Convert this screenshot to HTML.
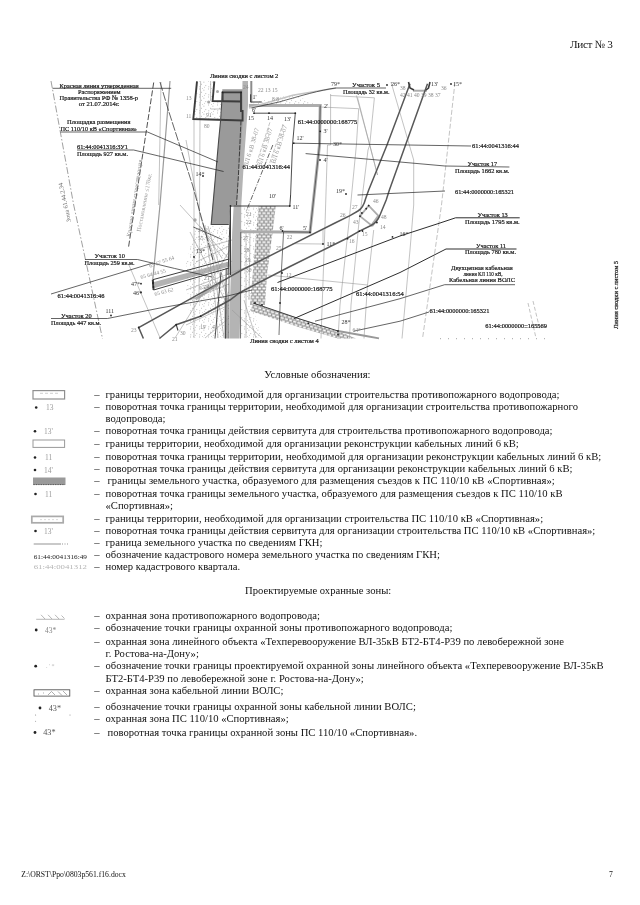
<!DOCTYPE html>
<html lang="ru"><head><meta charset="utf-8"><title>Лист № 3</title>
<style>
html,body{margin:0;padding:0;background:#fff;}
body{width:640px;height:905px;position:relative;overflow:hidden;font-family:"Liberation Serif",serif;color:#111;}
#tx{position:absolute;left:0;top:0;width:640px;height:905px;will-change:transform;}
.t{position:absolute;white-space:pre;font-size:10.63px;line-height:1;}
.s{position:absolute;white-space:pre;line-height:1;}
svg{position:absolute;left:0;top:0;}
</style></head><body>
<div id="tx">

<div class="t" style="left:94.30px;top:390.10px;">–</div>
<div class="t" id="l0" style="left:105.50px;top:390.10px;word-spacing:0.054px;">границы территории, необходимой для организации строительства противопожарного водопровода;</div>
<div class="t" style="left:94.30px;top:402.10px;">–</div>
<div class="t" id="l1" style="left:105.50px;top:402.10px;word-spacing:-0.006px;">поворотная точка границы территории, необходимой для организации строительства противопожарного</div>
<div class="t" id="l2" style="left:105.50px;top:414.10px;">водопровода;</div>
<div class="t" style="left:94.30px;top:426.10px;">–</div>
<div class="t" id="l3" style="left:105.50px;top:426.10px;word-spacing:0.016px;">поворотная точка границы действия сервитута для строительства противопожарного водопровода;</div>
<div class="t" style="left:94.30px;top:439.10px;">–</div>
<div class="t" id="l4" style="left:105.50px;top:439.10px;word-spacing:-0.061px;">границы территории, необходимой для организации реконструкции кабельных линий 6 кВ;</div>
<div class="t" style="left:94.30px;top:452.10px;">–</div>
<div class="t" id="l5" style="left:105.50px;top:452.10px;word-spacing:0.034px;">поворотная точка границы территории, необходимой для организации реконструкции кабельных линий 6 кВ;</div>
<div class="t" style="left:94.30px;top:464.10px;">–</div>
<div class="t" id="l6" style="left:105.50px;top:464.10px;word-spacing:0.023px;">поворотная точка границы действия сервитута для организации реконструкции кабельных линий 6 кВ;</div>
<div class="t" style="left:94.30px;top:476.10px;">–</div>
<div class="t" id="l7" style="left:107.50px;top:476.10px;word-spacing:0.138px;">границы земельного участка, образуемого для размещения съездов к ПС 110/10 кВ «Спортивная»;</div>
<div class="t" style="left:94.30px;top:489.10px;">–</div>
<div class="t" id="l8" style="left:105.50px;top:489.10px;word-spacing:-0.013px;">поворотная точка границы земельного участка, образуемого для размещения съездов к ПС 110/10 кВ</div>
<div class="t" id="l9" style="left:105.50px;top:501.10px;">«Спортивная»;</div>
<div class="t" style="left:94.30px;top:514.10px;">–</div>
<div class="t" id="l10" style="left:105.50px;top:514.10px;word-spacing:0.037px;">границы территории, необходимой для организации строительства ПС 110/10 кВ «Спортивная»;</div>
<div class="t" style="left:94.30px;top:526.10px;">–</div>
<div class="t" id="l11" style="left:105.50px;top:526.10px;word-spacing:-0.038px;">поворотная точка границы действия сервитута для организации строительства ПС 110/10 кВ «Спортивная»;</div>
<div class="t" style="left:94.30px;top:538.10px;">–</div>
<div class="t" id="l12" style="left:105.50px;top:538.10px;">граница земельного участка по сведениям ГКН;</div>
<div class="t" style="left:94.30px;top:550.10px;">–</div>
<div class="t" id="l13" style="left:105.50px;top:550.10px;">обозначение кадастрового номера земельного участка по сведениям ГКН;</div>
<div class="t" style="left:94.30px;top:562.10px;">–</div>
<div class="t" id="l14" style="left:105.50px;top:562.10px;">номер кадастрового квартала.</div>
<div class="t" style="left:94.30px;top:611.10px;">–</div>
<div class="t" id="l15" style="left:105.50px;top:611.10px;">охранная зона противопожарного водопровода;</div>
<div class="t" style="left:94.30px;top:623.10px;">–</div>
<div class="t" id="l16" style="left:105.50px;top:623.10px;">обозначение точки границы охранной зоны противопожарного водопровода;</div>
<div class="t" style="left:94.30px;top:637.10px;">–</div>
<div class="t" id="l17" style="left:105.50px;top:637.10px;word-spacing:0.054px;">охранная зона линейного объекта «Техперевооружение ВЛ-35кВ БТ2-БТ4-Р39 по левобережной зоне</div>
<div class="t" id="l18" style="left:105.50px;top:649.10px;">г. Ростова-на-Дону»;</div>
<div class="t" style="left:94.30px;top:661.10px;">–</div>
<div class="t" id="l19" style="left:105.50px;top:661.10px;word-spacing:0.056px;">обозначение точки границы проектируемой охранной зоны линейного объекта «Техперевооружение ВЛ-35кВ</div>
<div class="t" id="l20" style="left:105.50px;top:674.10px;">БТ2-БТ4-Р39 по левобережной зоне г. Ростова-на-Дону»;</div>
<div class="t" style="left:94.30px;top:686.10px;">–</div>
<div class="t" id="l21" style="left:105.50px;top:686.10px;">охранная зона кабельной линии ВОЛС;</div>
<div class="t" style="left:94.30px;top:702.10px;">–</div>
<div class="t" id="l22" style="left:105.50px;top:702.10px;">обозначение точки границы охранной зоны кабельной линии ВОЛС;</div>
<div class="t" style="left:94.30px;top:714.10px;">–</div>
<div class="t" id="l23" style="left:105.50px;top:714.10px;">охранная зона ПС 110/10 «Спортивная»;</div>
<div class="t" style="left:94.30px;top:728.10px;">–</div>
<div class="t" id="l24" style="left:107.50px;top:728.10px;">поворотная точка границы охранной зоны ПС 110/10 «Спортивная».</div>
<div class="t" style="left:264.30px;top:370.00px;">Условные обозначения:</div>
<div class="t" style="left:245.00px;top:586.20px;">Проектируемые охранные зоны:</div>
<div class="t" style="left:570.00px;top:39.22px;font-size:11.2px;letter-spacing:-0.34px;">Лист № 3</div>
<div class="t" style="left:21.20px;top:870.55px;font-size:7.7px;">Z:\ORST\Ppo\0803p561.f16.docx</div>
<div class="t" style="left:609.00px;top:870.55px;font-size:7.7px;">7</div>
</div>
<svg width="640" height="905" viewBox="0 0 640 905" font-family="Liberation Serif, serif">
<g fill="none">
<rect x="33" y="390.6" width="31.6" height="8.4" stroke="#8f8f8f" stroke-width="1.2"/>
<path d="M40 393.3H60" stroke="#bbb" stroke-width=".7" stroke-dasharray="3 2"/>
<rect x="33" y="440" width="31.6" height="7.4" stroke="#999" stroke-width="1"/>
<rect x="33" y="477.5" width="32.5" height="7.5" fill="#9a9a9a"/>
<path d="M33.5 484.6H65" stroke="#444" stroke-width=".8" stroke-dasharray="1.2 1.2"/>
<rect x="31.8" y="516.4" width="31.4" height="6.4" stroke="#aaa" stroke-width="1.7"/>
<path d="M40 519.6H58" stroke="#ccc" stroke-width=".7" stroke-dasharray="2 2"/>
<path d="M33.7 544H61" stroke="#666" stroke-width=".7"/><path d="M62 544H69" stroke="#666" stroke-width=".7" stroke-dasharray="1 1.5"/>
<path d="M36.2 619.3H64.5" stroke="#999" stroke-width=".7"/>
<path d="M41 614.8L45 619M48 614.8L52 619M55 614.8L59 619M61.5 615.5L64.5 618.5" stroke="#999" stroke-width=".7"/>
<rect x="34" y="689.8" width="35.8" height="6.3" stroke="#444" stroke-width=".8"/>
<path d="M38 694h1M43 693h1M48 695L51.5 691.5L55 695M58 691.5L62 695.5M63 691L67 695" stroke="#777" stroke-width=".6"/>
</g>
<g fill="#222">
<circle cx="36.2" cy="407.5" r="1.3"/><circle cx="35" cy="431.3" r="1.3"/><circle cx="35" cy="457.5" r="1.3"/><circle cx="35" cy="470" r="1.3"/>
<circle cx="35.5" cy="494" r="1.3"/><circle cx="35.5" cy="531" r="1.3"/><circle cx="36.2" cy="630" r="1.4"/><circle cx="35.7" cy="666.2" r="1.4"/>
<circle cx="40" cy="708" r="1.4"/><circle cx="35" cy="732.5" r="1.4"/>
<circle cx="35.7" cy="715" r=".4"/><circle cx="70" cy="715" r=".4"/><circle cx="35.7" cy="721.2" r=".4"/>
</g>
<g font-size="7.5" fill="#9a9a9a">
<text x="46" y="410">13</text><text x="44" y="434">13'</text><text x="45" y="460">11</text><text x="44" y="472.5">14'</text><text x="45" y="496.5">11</text><text x="44" y="533.5">13'</text>
<text x="45" y="632.5" fill="#888">43*</text>
<text x="46" y="668" fill="#bbb" font-size="6">. ' *</text>
<text x="48.7" y="710.5" fill="#555" font-size="8.2">43*</text><text x="43.2" y="734.7" fill="#555" font-size="8.2">43*</text>
</g>
<text x="33.7" y="559" font-size="6.3" fill="#222" textLength="53.3" lengthAdjust="spacingAndGlyphs">61:44:0041316:49</text>
<text x="33.7" y="569" font-size="6.8" fill="#b5b5b5" textLength="53.3" lengthAdjust="spacingAndGlyphs">61:44:0041312</text>
</svg>

<svg width="640" height="905" viewBox="0 0 640 905" font-family="Liberation Serif, serif">
<defs>
<pattern id="brick" width="4.4" height="5.8" patternUnits="userSpaceOnUse">
<rect width="4.4" height="5.8" fill="#8c8c8c"/>
<path d="M.6 1.45H3.8M-1.6 4.35H1.6M2.8 4.35H6" stroke="#fbfbfb" stroke-width="2.1" fill="none"/>
</pattern>
<pattern id="brick2" width="4.4" height="5.8" patternUnits="userSpaceOnUse" patternTransform="rotate(16.5)">
<rect width="4.4" height="5.8" fill="#8c8c8c"/>
<path d="M.6 1.45H3.8M-1.6 4.35H1.6M2.8 4.35H6" stroke="#fbfbfb" stroke-width="2.1" fill="none"/>
</pattern>
<pattern id="st" width="9" height="8" patternUnits="userSpaceOnUse">
<path d="M1 1h.8M5.5 2.2h.8M3 4.3h.8M7.4 5.6h.8M1.4 6.8h.8M6 7.4h.6M4 .4h.6" stroke="#8c8c8c" stroke-width=".7"/>
</pattern>
</defs>
<g id="fills">
<path d="M242.5 81L248 81L248 105L244 160L241.3 205L240.6 300L239.5 338.5L229.5 338.5L230 300L232.2 232L233.7 205L241 140Z" fill="#b4b4b4"/>
<path d="M222.3 89.3L242.6 89.3L242.8 120.5L241 145L238.4 176L236.5 205.3L230.6 205.3L228.8 224.5L211 224.5L218.7 140L220.6 120.5L222.3 101Z" fill="#9a9a9a"/>
<path d="M154 282L229 261.5L229.6 266.5L154.6 288Z" fill="#b3b3b3"/>
<path d="M258.6 206L275.8 206L272.6 232.5L267 275L265 305L250 305L254.3 255Z" fill="url(#brick)"/>
<path d="M253 303L300 319L338 331L356 338.5L338 338.5L300 327.5L250.5 311Z" fill="url(#brick2)"/>
<path d="M224.4 297.5H228V338.5H224.4Z" fill="#a8a8a8"/>
<path d="M196 300.5L221.5 283.5L220.5 281L195 298Z" fill="#b0b0b0"/>
<circle cx="208.7" cy="102" r="1.6" fill="#aaa"/><circle cx="217.5" cy="91.6" r="1.5" fill="#aaa"/><circle cx="195" cy="220" r="1.7" fill="#aaa"/>
<!-- stipple regions -->
<path d="M197 81L214.3 81L212.6 101L222.3 101L220.6 120L193.3 119Z" fill="url(#st)"/>
<path d="M250.6 103L293 94.5L318 104.5L250 104.5Z" fill="url(#st)"/>
<path d="M241 207H258.4L254.3 255L251 300H241Z" fill="url(#st)"/>
<path d="M196 226H229L229 338H190L186 262Z" fill="url(#st)"/>
<path d="M241 306H252L262 338H240Z" fill="url(#st)"/>
</g>
<g fill="none" stroke="#9a9a9a" stroke-width=".6">
<path d="M51 81L73.7 205L102.5 338.7" stroke-dasharray="7 2 1.5 2" stroke="#888" stroke-width=".8"/>
<path d="M161 82L158.7 205M128.4 263.7L160.3 338.5M330.6 94L330.6 145L327.5 145L325 225L321 338.5M330.6 95.5L374.4 97.8L369.7 145L368 150L361 207L358.7 225L351 305L349.5 338.5M356.4 95.5L369.7 145L377.5 175M320 107L358.7 108.7L356.4 145L348.7 225L340 305L338 338.5M391 82L413.7 160L413.7 205L410 250L402 338.5M357.5 97.5L377.5 175M373.7 230L367.5 285L364 338.5M267.5 275L367.5 285M292.5 243.7L323 244M323 230L323 244M194 120L194 338M200 120L199 300M246 232L246 338M250 232L249 300M205 225L215 300L218 338M190 232L225 300M175 338L230 250M200.6 81L200 119M210.6 81L210.6 100M210.6 109H221.5M240.6 232L240.6 338M186 140L200 215L228 300M180 205L232 262M186 290L260 262M196 250L232 240M232 310L262 338M244 300L256 338M200 226L222 258M208 226L229 300M196 262L229 246M190 300L229 284M205 338L229 318M212 255L224 338M186 325L229 305"/>
<path d="M170 81L160 205L153.7 270L152.8 279" stroke-width="1.2"/>
<path d="M455 82L441.5 205L422.5 338.7" stroke-dasharray="5 2"/>
<path d="M528 303L536 338M533 301L540 330" stroke-dasharray="4 2"/>
<path d="M440 338.7H546" stroke-dasharray="1 7" stroke="#666"/>
<path d="M255 168L270 122M268 168L283 124" stroke-dasharray="4 1.5"/>
</g>
<g id="thick" fill="none" stroke="#adadad" stroke-width="3">
<path d="M248.9 105.5H320.2L319.5 145L310 232.2L240 231.7"/>
<path d="M249 108L292.7 95.2L336 88" stroke-width="1.6" stroke="#c4c4c4"/>
<path d="M368.7 205.6L378.7 216.2L371.9 225.6L360 216.2Z" stroke-width="1.8"/><path d="M378.7 216.2L371.9 225.6" stroke-width="3"/>
<path d="M413 90.7H427" stroke-width="2"/>
<path d="M251.3 81V102.5" stroke-width="2" stroke="#8c8c8c"/>
</g>
<g id="dark" fill="none" stroke="#3c3c3c" stroke-width="1.9">
<path d="M197 81.4L193.3 119L242.6 120.5L242.6 111L241 111L241 92.4L222.6 92.4L222.6 101"/>
<path d="M214.3 81.4L212.6 101L241 101.5"/>
<path d="M222.4 92.4L220.6 120.5L218.7 140L211.2 224.5L228.8 224.5" stroke-width="1.1" stroke="#4a4a4a"/>
<path d="M241 120.5L238.4 176L236.5 205" stroke-dasharray="5 1.2" stroke-width="1"/>
<path d="M290.6 195L289.8 206L230.5 206L228 275M230.5 206L230.5 275" stroke-width="1"/>
<path d="M229 259L152.8 279.7L153.6 290L229 268" stroke-width="1"/>
<path d="M152.8 279.7L153.6 290" stroke-width="2"/>
<path d="M143.4 338.5L138.7 327.5L225 279.7L240 271L290 245.6L335 223L350 215.6L358 211C363 208 364.5 203 365.6 198.7L368.7 190L387 145L410 83.7" stroke-width="1.5" stroke="#585858"/>
<path d="M159.4 338.5L176.2 324.7L200.6 316.2L230 300L240 292.5L290 266.5L347.5 238L359.4 231.2L371 225.5C377 222.5 378.5 219 380 215L386.2 200L389.4 190L427.5 83.7" stroke-width="1.5" stroke="#585858"/>
<path d="M176.2 324.7L178 330.5" stroke-width="1.1"/>
<path d="M221 272.5L215 338.5M226.2 268L225.5 338.5" stroke-width=".9"/><path d="M229.2 240L228.7 338.5M240.8 232L240.4 338.5" stroke-width=".8" stroke="#555"/>
<path d="M254 113.2L295.3 113.2L292.5 145L290.6 195" stroke-width=".9"/>
<path d="M250.6 94.3V102H261.8" stroke-width="1"/>
<path d="M320.2 105.5L319.5 145L310 232.2L283.6 231.7L281.2 275L279 335" stroke-width=".7"/>
<path d="M408.5 82L410 88L414 90M430 82L428.5 88L426 90" stroke-width="1.6"/>
<path d="M153.7 82.5L128.4 248" stroke-dasharray="6 2" stroke-width=".9"/>
<path d="M272.8 145L246 212" stroke-dasharray="5 1.5 1 1.5" stroke-width=".8"/>
<path d="M253 303L300 319L338 331" stroke-width="1"/><path d="M338 331L366 336L379 338.3" stroke-width="1.8" stroke="#999"/>
</g>
<g id="lead" fill="none" stroke="#222" stroke-width=".7">
<path d="M52.5 88.3H171.2"/>
<path d="M60.5 132H147.5L218 162"/>
<path d="M77 150H133.7L223.6 171.5"/>
<path d="M386 88H336C320 90 300 96 279 102L251.5 108"/>
<path d="M471 146L294 143.2"/>
<path d="M509.4 167L445 166L305.6 153.6"/>
<path d="M445 191L357.5 195"/>
<path d="M519.7 217.8H455.6L440 223L400 236L277.5 282.5" stroke-width=".95"/>
<path d="M516.5 249H446L400 272.5L293.7 318.7" stroke-width=".95"/>
<path d="M515 284.7H444.7L400 298.7L315 321.2"/>
<path d="M429 312L400 321.2L353.7 331.2"/>
<path d="M85 259.5H137.5L174.4 268.4L212 277"/>
<path d="M51 294L153 263"/>
<path d="M51 318.5H107.5L160 308L225 296.6L252 290"/>
<path d="M160 82L168.3 110L192.5 185L213 260" stroke-dasharray="9 1.5"/><path d="M193.3 227L222 239.4"/>
</g>
<g fill="#222"><circle cx="141.0" cy="283.7" r=".9"/><circle cx="141.0" cy="292.5" r=".9"/><circle cx="320.2" cy="131.3" r=".9"/><circle cx="323.0" cy="244.0" r=".9"/><circle cx="346.0" cy="194.0" r=".9"/><circle cx="387.0" cy="85.0" r=".9"/><circle cx="451.0" cy="84.0" r=".9"/><circle cx="111.0" cy="315.5" r=".9"/><circle cx="282.5" cy="231.0" r=".9"/><circle cx="282.0" cy="273.0" r=".9"/><circle cx="280.0" cy="303.0" r=".9"/><circle cx="310.0" cy="232.3" r=".9"/><circle cx="230.5" cy="206.0" r=".9"/><circle cx="289.8" cy="206.0" r=".9"/><circle cx="295.3" cy="113.2" r=".9"/><circle cx="254.0" cy="113.2" r=".9"/><circle cx="269.0" cy="113.2" r=".9"/><circle cx="241.0" cy="92.4" r=".9"/><circle cx="222.6" cy="92.4" r=".9"/><circle cx="153.0" cy="283.0" r=".9"/><circle cx="153.4" cy="287.0" r=".9"/><circle cx="176.2" cy="324.7" r=".9"/><circle cx="138.7" cy="327.5" r=".9"/><circle cx="200.6" cy="316.2" r=".9"/><circle cx="347.5" cy="238.7" r=".9"/><circle cx="362.5" cy="231.0" r=".9"/><circle cx="293.7" cy="143.2" r=".9"/><circle cx="320.0" cy="160.0" r=".9"/><circle cx="255.0" cy="303.0" r=".9"/><circle cx="262.0" cy="305.0" r=".9"/><circle cx="338.0" cy="331.0" r=".9"/><circle cx="338.0" cy="334.5" r=".9"/><circle cx="308.4" cy="323.3" r=".9"/><circle cx="368.7" cy="205.6" r=".9"/><circle cx="366.2" cy="208.7" r=".9"/><circle cx="361.9" cy="213.0" r=".9"/><circle cx="360.0" cy="216.2" r=".9"/><circle cx="376.9" cy="222.5" r=".9"/><circle cx="359.4" cy="231.2" r=".9"/><circle cx="392.5" cy="236.9" r=".9"/><circle cx="203.0" cy="176.0" r=".9"/><circle cx="194.0" cy="257.0" r=".9"/></g>
<g id="labels" stroke="#1a1a1a" stroke-width=".22">
<text x="210.0" y="77.8" font-size="6.8" fill="#1a1a1a" textLength="68.3" lengthAdjust="spacingAndGlyphs">Линия сводки с листом 2</text>
<text x="59.5" y="87.5" font-size="6.8" fill="#1a1a1a" textLength="79.2" lengthAdjust="spacingAndGlyphs">Красная линия утвержденная</text>
<text x="78.0" y="93.8" font-size="6.8" fill="#1a1a1a" textLength="42.5" lengthAdjust="spacingAndGlyphs">Распоряжением</text>
<text x="59.5" y="100.0" font-size="6.8" fill="#1a1a1a" textLength="78.5" lengthAdjust="spacingAndGlyphs">Правительства РФ № 1358-р</text>
<text x="78.7" y="106.3" font-size="6.8" fill="#1a1a1a" textLength="40.8" lengthAdjust="spacingAndGlyphs">от 21.07.2014г.</text>
<text x="67.0" y="123.8" font-size="6.8" fill="#1a1a1a" textLength="63.5" lengthAdjust="spacingAndGlyphs">Площадка  размещения</text>
<text x="60.5" y="130.5" font-size="6.8" fill="#1a1a1a" textLength="76.5" lengthAdjust="spacingAndGlyphs">ПС 110/10 кВ «Спортивная»</text>
<text x="77.0" y="148.8" font-size="6.8" fill="#1a1a1a" textLength="51.0" lengthAdjust="spacingAndGlyphs">61:44:0041316:ЗУ1</text>
<text x="77.0" y="156.3" font-size="6.8" fill="#1a1a1a" textLength="51.0" lengthAdjust="spacingAndGlyphs">Площадь 927 кв.м.</text>
<text x="352.0" y="86.5" font-size="6.8" fill="#1a1a1a" textLength="28.0" lengthAdjust="spacingAndGlyphs">Участок 5</text>
<text x="343.0" y="94.0" font-size="6.8" fill="#1a1a1a" textLength="46.5" lengthAdjust="spacingAndGlyphs">Площадь 32 кв.м.</text>
<text x="297.8" y="124.4" font-size="6.8" fill="#1a1a1a" textLength="59.4" lengthAdjust="spacingAndGlyphs">61:44:0000000:168775</text>
<text x="242.5" y="168.8" font-size="6.8" fill="#1a1a1a" textLength="47.5" lengthAdjust="spacingAndGlyphs">61:44:0041316:44</text>
<text x="472.0" y="147.8" font-size="6.8" fill="#1a1a1a" textLength="47.0" lengthAdjust="spacingAndGlyphs">61:44:0041316:44</text>
<text x="467.5" y="165.6" font-size="6.8" fill="#1a1a1a" textLength="29.5" lengthAdjust="spacingAndGlyphs">Участок 17</text>
<text x="455.0" y="173.4" font-size="6.8" fill="#1a1a1a" textLength="54.4" lengthAdjust="spacingAndGlyphs">Площадь 1662 кв.м.</text>
<text x="455.0" y="193.8" font-size="6.8" fill="#1a1a1a" textLength="59.0" lengthAdjust="spacingAndGlyphs">61:44:0000000:165321</text>
<text x="477.5" y="216.9" font-size="6.8" fill="#1a1a1a" textLength="30.3" lengthAdjust="spacingAndGlyphs">Участок 13</text>
<text x="465.0" y="224.0" font-size="6.8" fill="#1a1a1a" textLength="54.7" lengthAdjust="spacingAndGlyphs">Площадь 1795 кв.м.</text>
<text x="476.0" y="247.5" font-size="6.8" fill="#1a1a1a" textLength="30.0" lengthAdjust="spacingAndGlyphs">Участок 11</text>
<text x="465.0" y="254.4" font-size="6.8" fill="#1a1a1a" textLength="51.0" lengthAdjust="spacingAndGlyphs">Площадь 780 кв.м.</text>
<text x="451.0" y="270.3" font-size="6.8" fill="#1a1a1a" textLength="61.8" lengthAdjust="spacingAndGlyphs">Двухцепная кабельная</text>
<text x="463.5" y="276.2" font-size="6.8" fill="#1a1a1a" textLength="39.0" lengthAdjust="spacingAndGlyphs">линия КЛ 110 кВ,</text>
<text x="449.0" y="282.2" font-size="6.8" fill="#1a1a1a" textLength="66.0" lengthAdjust="spacingAndGlyphs">Кабельная линия ВОЛС</text>
<text x="429.5" y="313.0" font-size="6.8" fill="#1a1a1a" textLength="59.9" lengthAdjust="spacingAndGlyphs">61:44:0000000:165321</text>
<text x="485.3" y="327.8" font-size="6.8" fill="#1a1a1a" textLength="61.7" lengthAdjust="spacingAndGlyphs">61:44:0000000::165569</text>
<text x="356.0" y="296.0" font-size="6.8" fill="#1a1a1a" textLength="47.7" lengthAdjust="spacingAndGlyphs">61:44:0041316:54</text>
<text x="271.0" y="291.0" font-size="6.8" fill="#1a1a1a" textLength="61.5" lengthAdjust="spacingAndGlyphs">61:44:0000000:168775</text>
<text x="94.5" y="258.2" font-size="6.8" fill="#1a1a1a" textLength="30.5" lengthAdjust="spacingAndGlyphs">Участок 10</text>
<text x="84.5" y="265.0" font-size="6.8" fill="#1a1a1a" textLength="50.0" lengthAdjust="spacingAndGlyphs">Площадь 259 кв.м.</text>
<text x="57.5" y="297.5" font-size="6.8" fill="#1a1a1a" textLength="47.0" lengthAdjust="spacingAndGlyphs">61:44:0041316:46</text>
<text x="61.0" y="318.0" font-size="6.8" fill="#1a1a1a" textLength="30.7" lengthAdjust="spacingAndGlyphs">Участок 20</text>
<text x="51.0" y="325.0" font-size="6.8" fill="#1a1a1a" textLength="50.0" lengthAdjust="spacingAndGlyphs">Площадь 447 кв.м.</text>
<text x="250.0" y="343.2" font-size="6.8" fill="#1a1a1a" textLength="68.7" lengthAdjust="spacingAndGlyphs">Линия сводки с листом 4</text>
<text transform="translate(617.5 329) rotate(-90)" font-size="6.8" fill="#1a1a1a" textLength="68" lengthAdjust="spacingAndGlyphs">Линия сводки с листом 5</text>
<text x="252.5" y="98.5" font-size="6" fill="#333" stroke="none">1'</text>
<text x="324.0" y="107.5" font-size="6" fill="#333" stroke="none">2'</text>
<text x="323.5" y="132.5" font-size="6" fill="#333" stroke="none">3'</text>
<text x="323.5" y="162.0" font-size="6" fill="#333" stroke="none">4'</text>
<text x="303.0" y="229.5" font-size="6" fill="#333" stroke="none">5'</text>
<text x="279.5" y="229.5" font-size="6" fill="#333" stroke="none">6'</text>
<text x="284.0" y="121.0" font-size="6" fill="#333" stroke="none">13'</text>
<text x="296.5" y="139.5" font-size="6" fill="#333" stroke="none">12'</text>
<text x="292.5" y="208.5" font-size="6" fill="#333" stroke="none">11'</text>
<text x="269.0" y="198.0" font-size="6" fill="#333" stroke="none">10'</text>
<text x="331.0" y="86.0" font-size="6" fill="#333" stroke="none">79*</text>
<text x="333.0" y="145.5" font-size="6" fill="#333" stroke="none">30*</text>
<text x="326.5" y="245.5" font-size="6" fill="#333" stroke="none">11*</text>
<text x="336.0" y="193.0" font-size="6" fill="#333" stroke="none">19*</text>
<text x="195.5" y="175.5" font-size="6" fill="#333" stroke="none">14*</text>
<text x="196.0" y="253.0" font-size="6" fill="#333" stroke="none">13*</text>
<text x="391.0" y="86.0" font-size="6" fill="#333" stroke="none">26*</text>
<text x="453.0" y="86.0" font-size="6" fill="#333" stroke="none">15*</text>
<text x="431.0" y="86.0" font-size="6" fill="#333" stroke="none">13'</text>
<text x="105.5" y="313.0" font-size="6" fill="#333" stroke="none">111</text>
<text x="399.5" y="235.5" font-size="6" fill="#333" stroke="none">16*</text>
<text x="341.5" y="323.5" font-size="6" fill="#333" stroke="none">28*</text>
<text x="248.0" y="120.0" font-size="6" fill="#333" stroke="none">15</text>
<text x="267.0" y="120.0" font-size="6" fill="#333" stroke="none">14</text>
<text x="252.0" y="112.0" font-size="6" fill="#333" stroke="none">6'</text>
<text x="131.0" y="286.0" font-size="6" fill="#333" stroke="none">47*</text>
<text x="133.0" y="295.0" font-size="6" fill="#333" stroke="none">46*</text>
<text x="400.0" y="90.0" font-size="5.6" fill="#8a8a8a" stroke="none">38</text>
<text x="441.0" y="90.0" font-size="5.6" fill="#8a8a8a" stroke="none">36</text>
<text x="400.0" y="96.5" font-size="5.6" fill="#8a8a8a" stroke="none">42 41 40 39 38 37</text>
<text x="258.0" y="92.0" font-size="5.6" fill="#8a8a8a" stroke="none">22 13 15</text>
<text x="272.0" y="101.0" font-size="5.6" fill="#8a8a8a" stroke="none">8  8</text>
<text x="243.0" y="89.0" font-size="5.6" fill="#8a8a8a" stroke="none">24</text>
<text x="286.7" y="238.5" font-size="5.6" fill="#8a8a8a" stroke="none">22</text>
<text x="276.0" y="249.5" font-size="5.6" fill="#8a8a8a" stroke="none">25</text>
<text x="246.0" y="216.0" font-size="5.6" fill="#8a8a8a" stroke="none">21</text>
<text x="246.0" y="224.0" font-size="5.6" fill="#8a8a8a" stroke="none">22</text>
<text x="243.0" y="240.0" font-size="5.6" fill="#8a8a8a" stroke="none">27</text>
<text x="244.0" y="252.0" font-size="5.6" fill="#8a8a8a" stroke="none">28</text>
<text x="245.0" y="262.0" font-size="5.6" fill="#8a8a8a" stroke="none">29</text>
<text x="246.0" y="272.0" font-size="5.6" fill="#8a8a8a" stroke="none">30</text>
<text x="352.0" y="208.7" font-size="5.6" fill="#8a8a8a" stroke="none">27</text>
<text x="340.0" y="216.5" font-size="5.6" fill="#8a8a8a" stroke="none">26</text>
<text x="353.0" y="223.5" font-size="5.6" fill="#8a8a8a" stroke="none">43</text>
<text x="381.0" y="219.0" font-size="5.6" fill="#8a8a8a" stroke="none">48</text>
<text x="373.0" y="203.0" font-size="5.6" fill="#8a8a8a" stroke="none">46</text>
<text x="349.0" y="243.0" font-size="5.6" fill="#8a8a8a" stroke="none">16</text>
<text x="362.0" y="236.0" font-size="5.6" fill="#8a8a8a" stroke="none">15</text>
<text x="380.0" y="229.0" font-size="5.6" fill="#8a8a8a" stroke="none">14</text>
<text x="286.0" y="277.0" font-size="5.6" fill="#8a8a8a" stroke="none">12</text>
<text x="131.0" y="331.5" font-size="5.6" fill="#8a8a8a" stroke="none">23</text>
<text x="180.0" y="335.0" font-size="5.6" fill="#8a8a8a" stroke="none">30</text>
<text x="172.0" y="341.0" font-size="5.6" fill="#8a8a8a" stroke="none">21</text>
<text x="200.0" y="329.0" font-size="5.6" fill="#8a8a8a" stroke="none">19</text>
<text x="212.0" y="329.0" font-size="5.6" fill="#8a8a8a" stroke="none">4</text>
<text x="198.0" y="232.0" font-size="5.6" fill="#8a8a8a" stroke="none">21 2</text>
<text x="198.0" y="240.0" font-size="5.6" fill="#8a8a8a" stroke="none">55</text>
<text x="204.0" y="280.0" font-size="5.6" fill="#8a8a8a" stroke="none">21</text>
<text x="204.0" y="289.0" font-size="5.6" fill="#8a8a8a" stroke="none">24 23</text>
<text x="206.0" y="117.0" font-size="5.6" fill="#8a8a8a" stroke="none">91</text>
<text x="204.0" y="128.0" font-size="5.6" fill="#8a8a8a" stroke="none">80</text>
<text x="186.0" y="100.0" font-size="5.6" fill="#8a8a8a" stroke="none">13</text>
<text x="186.0" y="118.0" font-size="5.6" fill="#8a8a8a" stroke="none">11</text>
<text x="352.5" y="331.5" font-size="5.6" fill="#8a8a8a" stroke="none">64*</text>
<text x="247.5" y="167.0" font-size="6.6" fill="#999" stroke="none" transform="rotate(-73 247.5 167.0)">ВЛ 6 кВ 38-07</text>
<text x="261.0" y="167.0" font-size="6.6" fill="#999" stroke="none" transform="rotate(-73 261.0 167.0)">ВЛ 6 кВ 38-07</text>
<text x="275.0" y="164.0" font-size="6.6" fill="#999" stroke="none" transform="rotate(-72 275.0 164.0)">ВЛ 6 кВ 38-07</text>
<text x="130.5" y="237.0" font-size="6" fill="#8a8a8a" stroke="none" transform="rotate(-81.4 130.5 237.0)">Красная линия существующая</text>
<text x="140.5" y="232.0" font-size="6" fill="#9a9a9a" stroke="none" transform="rotate(-79 140.5 232.0)">Постановление  ≤170кг.</text>
<text x="71.0" y="221.5" font-size="6.2" fill="#6a6a6a" stroke="none" transform="rotate(-102.5 71.0 221.5)">Зона 61.44.2.34</text>
<text x="150.0" y="268.0" font-size="5.5" fill="#8a8a8a" stroke="none" transform="rotate(-20 150.0 268.0)">65 67 55 64</text>
<text x="141.0" y="279.0" font-size="5.5" fill="#8a8a8a" stroke="none" transform="rotate(-15 141.0 279.0)">65 64 44 55</text>
<text x="155.0" y="296.0" font-size="5.5" fill="#8a8a8a" stroke="none" transform="rotate(-15 155.0 296.0)">65 63 62</text>
<text x="200.0" y="290.0" font-size="5.5" fill="#8a8a8a" stroke="none" transform="rotate(-15 200.0 290.0)">63 24 23</text>
</g>
</svg>
</body></html>
